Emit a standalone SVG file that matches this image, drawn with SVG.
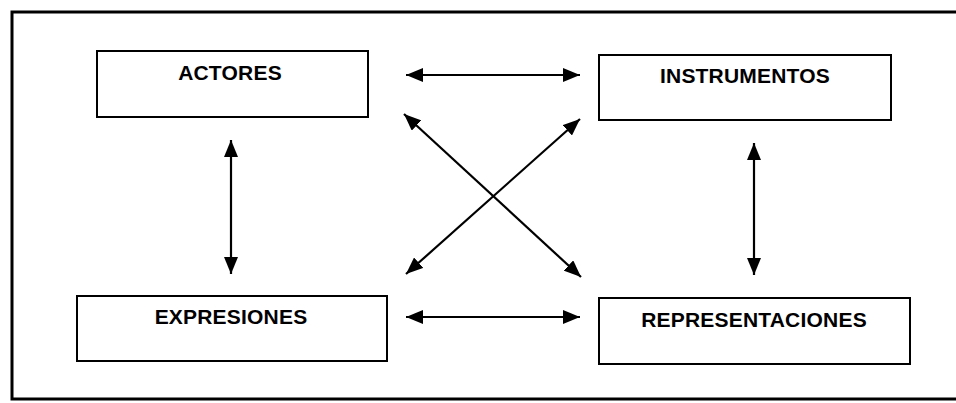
<svg xmlns="http://www.w3.org/2000/svg" width="956" height="403" viewBox="0 0 956 403">
<style>
.box{fill:#fff;stroke:#000;stroke-width:2}
.lbl{font-family:"Liberation Sans",Arial,sans-serif;font-weight:bold;font-size:21px;text-anchor:middle;fill:#000;letter-spacing:0.2px}
.conn{stroke:#000;stroke-width:2.2;fill:none;marker-start:url(#ah);marker-end:url(#ah)}
</style>
<defs>
<marker id="ah" viewBox="0 0 17 14" refX="17" refY="7" markerWidth="17" markerHeight="14" markerUnits="userSpaceOnUse" orient="auto-start-reverse">
<path d="M0,0 L17,7 L0,14 z" fill="#000"/>
</marker>
</defs>
<rect width="956" height="403" fill="#fff"/>
<path d="M956,12 L12,12 L12,399 L956,399" fill="none" stroke="#000" stroke-width="3"/>
<g id="actores"><rect class="box" x="97" y="51" width="271" height="66"/><text class="lbl" x="230" y="80">ACTORES</text></g>
<g id="instrumentos"><rect class="box" x="599" y="55" width="292" height="65"/><text class="lbl" x="745" y="83">INSTRUMENTOS</text></g>
<g id="expresiones"><rect class="box" x="77" y="296" width="310" height="65"/><text class="lbl" x="231" y="324">EXPRESIONES</text></g>
<g id="representaciones"><rect class="box" x="599" y="298" width="311" height="66"/><text class="lbl" x="754" y="327">REPRESENTACIONES</text></g>
<g id="connectors">
<line class="conn" x1="406" y1="75" x2="580" y2="75"/>
<line class="conn" x1="406" y1="317" x2="580" y2="317"/>
<line class="conn" x1="231" y1="140" x2="231" y2="274"/>
<line class="conn" x1="754" y1="143" x2="754" y2="275"/>
<line class="conn" x1="404" y1="114" x2="581" y2="277"/>
<line class="conn" x1="580" y1="119" x2="406" y2="274"/>
</g>
</svg>
